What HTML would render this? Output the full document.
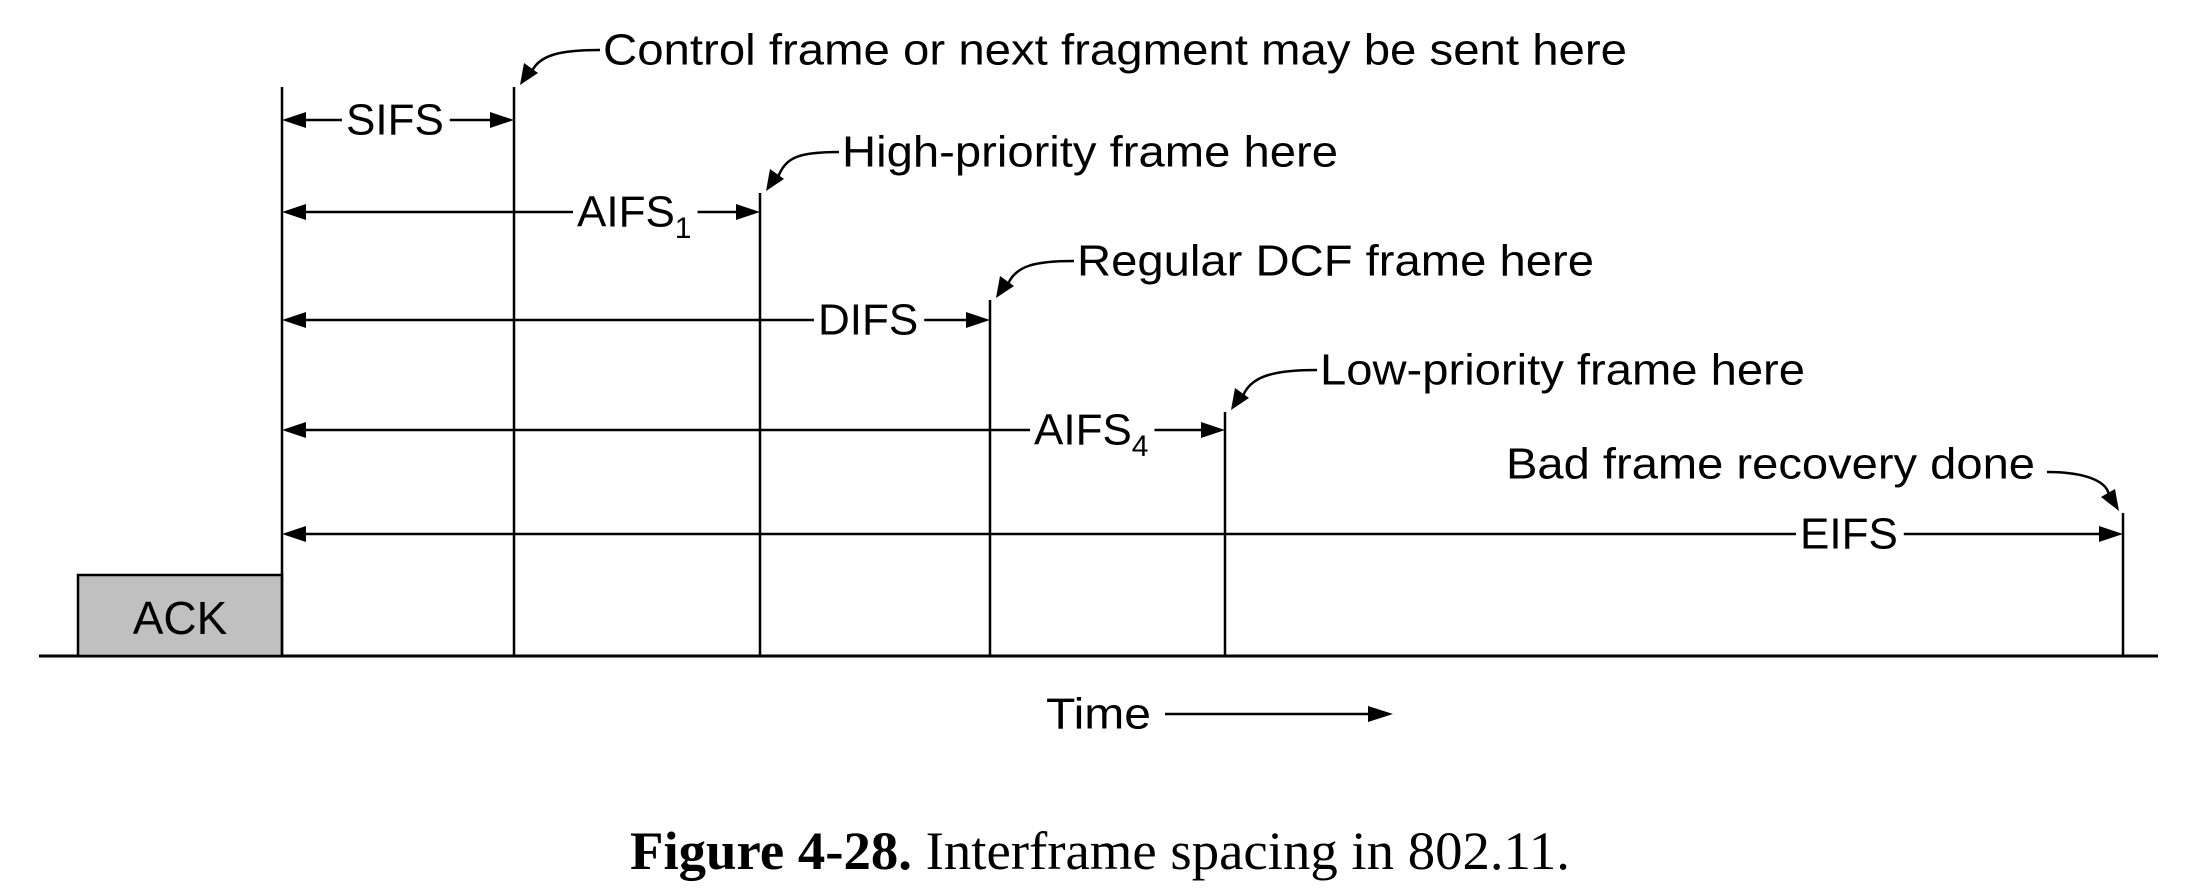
<!DOCTYPE html>
<html><head><meta charset="utf-8"><style>
html,body{margin:0;padding:0;background:#fff;}
svg{display:block;}
text{font-family:"Liberation Sans",sans-serif;fill:#000;}
</style></head>
<body>
<svg id="c" width="2190" height="896" viewBox="0 0 2190 896" xmlns="http://www.w3.org/2000/svg">
<line x1="39" y1="656" x2="2158" y2="656" stroke="#000" stroke-width="3"/>
<rect x="78" y="575" width="204" height="81" fill="#c0c0c0" stroke="#000" stroke-width="2.5"/>
<text x="180" y="618" font-size="46" text-anchor="middle" dominant-baseline="central">ACK</text>
<g id="marks"></g>
<text x="1046" y="714" font-size="44" dominant-baseline="central" textLength="105" lengthAdjust="spacingAndGlyphs">Time</text>
<line x1="1165" y1="714" x2="1372" y2="714" stroke="#000" stroke-width="2.5"/>
<polygon points="1393,714 1368,706 1368,722" fill="#000"/>
<text x="630" y="851" font-size="54" dominant-baseline="central" textLength="940" lengthAdjust="spacingAndGlyphs" style="font-family:'Liberation Serif',serif"><tspan font-weight="bold">Figure 4-28.</tspan>  Interframe spacing in 802.11.</text>
</svg>
<script>
const startX = 282;
const names = ["SIFS","AIFS","DIFS","AIFS","EIFS"];
const subs = ["","1","","4",""];
const ends = [514, 760, 990, 1225, 2123];
const tops = [87, 193, 300, 412, 513];
const rows = [120, 212, 320, 430, 534];
const labelX = [346, 577, 818, 1034, 1800];
const notes = ["Control frame or next fragment may be sent here","High-priority frame here","Regular DCF frame here","Low-priority frame here","Bad frame recovery done"];
const noteX = [603, 842, 1077, 1320, 1506];
const noteY = [50, 152, 261, 370, 464];
const noteW = [1024, 496, 517, 485, 529];

const NS="http://www.w3.org/2000/svg";
const g=document.getElementById('marks');
function mk(t,a){const e=document.createElementNS(NS,t);for(const k in a)e.setAttribute(k,a[k]);g.appendChild(e);return e;}
let v0=mk('line',{x1:startX,y1:87,x2:startX,y2:656,stroke:'#000','stroke-width':2.5});


for(let i=0;i<ends.length;i++){
  const ex=ends[i], y=rows[i];
  const vl=mk('line',{x1:ex,y1:tops[i],x2:ex,y2:656,stroke:'#000','stroke-width':2.5});
  
  
  const t=mk('text',{x:labelX[i],y:y,'font-size':44,'dominant-baseline':'central'});
  
  
  t.textContent=names[i];
  if(subs[i]){const s=document.createElementNS(NS,'tspan');s.setAttribute('font-size','30');s.setAttribute('dy','16');s.textContent=subs[i];t.appendChild(s);}
  const bb=t.getBBox();
  const l1=mk('line',{x1:startX+20,y1:y,x2:bb.x-4,y2:y,stroke:'#000','stroke-width':2.5});
  
  
  const l2=mk('line',{x1:bb.x+bb.width+6,y1:y,x2:ex-20,y2:y,stroke:'#000','stroke-width':2.5});
  
  
  const h1=mk('polygon',{points:`${startX},${y} ${startX+24},${y-8} ${startX+24},${y+8}`,fill:'#000'});
  
  
  const h2=mk('polygon',{points:`${ex},${y} ${ex-24},${y-8} ${ex-24},${y+8}`,fill:'#000'});
  
  
  const n=mk('text',{x:noteX[i],y:noteY[i],'font-size':44,'dominant-baseline':'central',textLength:noteW[i],lengthAdjust:'spacingAndGlyphs'});
  
  
  n.textContent=notes[i];
  let sx,sy,tx=ex+(i===4?-4:6),ty=tops[i]-2,p;
  if(i<4){sx=noteX[i]-3;sy=noteY[i];p=`M${sx},${sy} C${sx-40},${sy} ${tx+20},${sy+5} ${tx+12},${ty-14}`;}
  else{sx=noteX[i]+noteW[i]+12;sy=noteY[i]+8;p=`M${sx},${sy} C${sx+40},${sy} ${tx-10},${sy+10} ${tx-10},${ty-14}`;}
  const c=mk('path',{d:p,fill:'none',stroke:'#000','stroke-width':2.5});
  
  
  const ph = i<4 ? `${tx},${ty} ${tx+4},${ty-22} ${tx+18},${ty-12}` : `${tx},${ty} ${tx-18},${ty-14} ${tx-4},${ty-22}`;
  const ah=mk('polygon',{points:ph,fill:'#000'});
  
  
}
</script>
</body></html>
